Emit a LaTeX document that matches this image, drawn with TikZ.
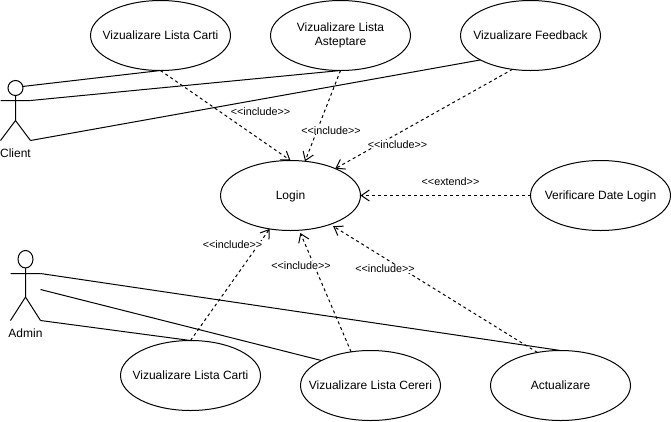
\documentclass[tikz,border=0pt]{standalone}
\usepackage{fontspec}
\setmainfont{Liberation Sans}
\usetikzlibrary{shapes.geometric,arrows.meta}
\tikzset{
  x=1pt,y=-1pt,
  usecase/.style={draw=black,fill=white,ellipse,minimum width=140pt,minimum height=70pt,inner sep=0pt,outer sep=0pt,line width=1pt,font=\fontsize{12}{14}\selectfont,align=center},
  oneline/.style={text height=8.6pt,text depth=0pt},
  longtext/.style={inner xsep=-25pt},
  assoc/.style={draw=black,line width=1pt},
  dep/.style={draw=black,line width=1pt,dash pattern=on 3pt off 3pt,-{Straight Barb[length=8pt,width=11pt]}},
  deplabel/.style={fill=white,inner sep=0pt,outer sep=0pt,font=\fontsize{10.8}{12}\selectfont,text height=8pt,text depth=0pt},
  actorhead/.style={draw=black,fill=white,ellipse,inner sep=0pt,outer sep=0pt,line width=1pt,minimum width=15pt},
  actorname/.style={inner sep=0pt,font=\fontsize{12}{14}\selectfont,text height=8.6pt,text depth=0pt},
}
\begin{document}
\begin{tikzpicture}
\useasboundingbox[fill=white] (0,0) rectangle (671,421);
% use cases
\node[usecase,oneline,longtext] (carti1) at (160.5,35.5) {Vizualizare Lista Carti};
\node[usecase,longtext] (asteptare) at (340.5,35.5) {Vizualizare Lista\\Asteptare};
\node[usecase,oneline,longtext] (feedback) at (530.5,35.5) {Vizualizare Feedback};
\node[usecase,oneline] (login) at (290.5,195.5) {Login};
\node[usecase,oneline,longtext] (verif) at (600.5,195.5) {Verificare Date Login};
\node[usecase,oneline,longtext] (carti2) at (190.5,375.5) {Vizualizare Lista Carti};
\node[usecase,oneline,longtext] (cereri) at (370.5,385.5) {Vizualizare Lista Cereri};
\node[usecase,oneline] (actual) at (560.5,385.5) {Actualizare};
% client actor
\node[actorhead,minimum height=15pt] (chead) at (15.5,88) {};
\coordinate (cneck) at (15.5,95.5);
\coordinate (chip) at (15.5,120.5);
\coordinate (carml) at (0.5,100.5);
\coordinate (carmr) at (30.5,100.5);
\coordinate (clegl) at (0.5,140.5);
\coordinate (clegr) at (30.5,140.5);
\draw[assoc] (cneck) -- (chip) (carml) -- (carmr) (clegl) -- (chip) -- (clegr);
\node[actorname] (client) at (15.5,153.5) {Client};
% admin actor
\node[actorhead,minimum height=17.5pt] (ahead) at (25.5,259.2) {};
\coordinate (aneck) at (25.5,268);
\coordinate (ahip) at (25.5,297);
\coordinate (aarml) at (10.5,273.5);
\coordinate (aarmr) at (40.5,273.5);
\coordinate (alegl) at (10.5,320.5);
\coordinate (alegr) at (40.5,320.5);
\coordinate (amid) at (40.5,289.5);
\draw[assoc] (aneck) -- (ahip) (aarml) -- (aarmr) (alegl) -- (ahip) -- (alegr);
\node[actorname] (admin) at (25.5,333.5) {Admin};
% associations
\draw[assoc] (chead.12) -- (carti1.south);
\draw[assoc] (carmr) -- (asteptare.south);
\draw[assoc] (clegr) -- (feedback.206);
\draw[assoc] (aarmr) -- (actual.north);
\draw[assoc] (amid) -- (cereri.153);
\draw[assoc] (alegr) -- (carti2.north);
% dependencies
\draw[dep] (carti1.south) -- (login.north);
\draw[dep] (asteptare.south) -- (login.67);
\draw[dep] (feedback.242) -- (login.31);
\draw[dep] (verif.west) -- (login.east);
\draw[dep] (carti2.north) -- (login.238);
\draw[dep,shorten >=3pt] (cereri.120) -- (login.-76);
\draw[dep,shorten >=3.5pt] (actual.125) -- (login.-36);
% labels
\node[deplabel] (l1) at (260.5,111) {<{}<include>{}>};
\node[deplabel] (l2) at (331,130) {<{}<include>{}>};
\node[deplabel] (l3) at (397.5,144) {<{}<include>{}>};
\node[deplabel] (l4) at (450.5,181) {<{}<extend>{}>};
\node[deplabel] (l5) at (232.5,244.5) {<{}<include>{}>};
\node[deplabel] (l6) at (301,265) {<{}<include>{}>};
\node[deplabel] (l7) at (385,268.5) {<{}<include>{}>};
\end{tikzpicture}
\end{document}
